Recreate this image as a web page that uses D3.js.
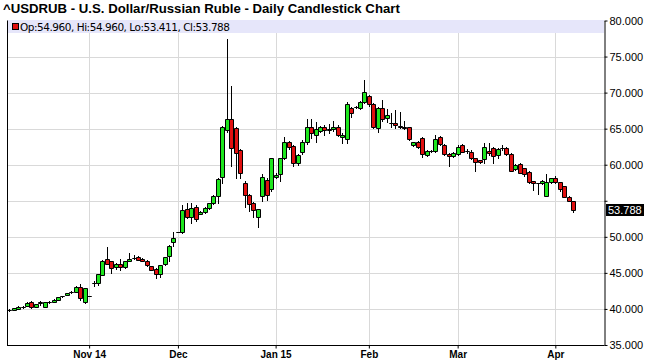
<!DOCTYPE html>
<html><head><meta charset="utf-8">
<script src="https://cdn.jsdelivr.net/npm/d3@7"></script>
<style>body{margin:0;background:#fff}svg{display:block}text{font-family:"Liberation Sans",Arial,sans-serif}</style>
</head><body><svg id="c" width="645" height="361"></svg>
<script>
const dates = [
"2014-10-08","2014-10-09","2014-10-10","2014-10-13","2014-10-14","2014-10-15","2014-10-16","2014-10-17","2014-10-20","2014-10-21","2014-10-22","2014-10-23","2014-10-24","2014-10-27","2014-10-28","2014-10-29","2014-10-30","2014-10-31",
"2014-11-03","2014-11-04","2014-11-05","2014-11-06","2014-11-07","2014-11-10","2014-11-11","2014-11-12","2014-11-13","2014-11-14","2014-11-17","2014-11-18","2014-11-19","2014-11-20","2014-11-21","2014-11-24","2014-11-25","2014-11-26","2014-11-27","2014-11-28",
"2014-12-01","2014-12-02","2014-12-03","2014-12-04","2014-12-05","2014-12-08","2014-12-09","2014-12-10","2014-12-11","2014-12-12","2014-12-15","2014-12-16","2014-12-17","2014-12-18","2014-12-19","2014-12-22","2014-12-23","2014-12-24","2014-12-26","2014-12-29","2014-12-30","2014-12-31",
"2015-01-02","2015-01-05","2015-01-06","2015-01-07","2015-01-08","2015-01-09","2015-01-12","2015-01-13","2015-01-14","2015-01-15","2015-01-16","2015-01-19","2015-01-20","2015-01-21","2015-01-22","2015-01-23","2015-01-26","2015-01-27","2015-01-28","2015-01-29","2015-01-30",
"2015-02-02","2015-02-03","2015-02-04","2015-02-05","2015-02-06","2015-02-09","2015-02-10","2015-02-11","2015-02-12","2015-02-13","2015-02-16","2015-02-17","2015-02-18","2015-02-19","2015-02-20","2015-02-23","2015-02-24","2015-02-25","2015-02-26","2015-02-27",
"2015-03-02","2015-03-03","2015-03-04","2015-03-05","2015-03-06","2015-03-09","2015-03-10","2015-03-11","2015-03-12","2015-03-13","2015-03-16","2015-03-17","2015-03-18","2015-03-19","2015-03-20","2015-03-23","2015-03-24","2015-03-25","2015-03-26","2015-03-27","2015-03-30","2015-03-31",
"2015-04-01","2015-04-02","2015-04-03","2015-04-06","2015-04-07"];

const open = [39.85,39.88,40.02,40.28,40.42,40.92,40.32,40.88,40.32,40.95,41.00,41.22,41.76,41.95,42.30,42.40,43.10,40.95,
41.75,43.55,43.65,44.70,46.90,46.60,45.80,46.30,45.80,46.65,47.05,47.20,46.90,46.65,45.90,45.60,44.85,46.20,47.40,49.25,
50.70,50.70,53.80,52.70,54.20,53.20,53.40,54.00,54.70,55.70,58.36,64.80,66.30,65.06,62.05,57.40,55.80,54.65,52.70,55.60,57.90,56.60,
58.30,58.70,60.90,63.10,62.60,60.20,61.70,63.10,65.20,64.10,64.70,65.30,64.80,64.90,65.30,63.80,63.54,67.92,67.97,67.83,68.76,
69.54,68.39,65.06,67.83,66.44,65.75,65.84,65.38,65.29,65.20,62.75,63.20,63.67,61.36,61.90,61.90,63.90,62.74,61.45,61.22,
61.50,62.75,61.90,61.82,60.90,60.60,60.76,61.96,62.28,61.36,62.30,62.28,61.50,59.37,60.06,59.50,58.96,57.75,57.40,57.43,55.67,57.66,
58.12,57.57,57.06,55.58,54.96];
const high = [39.95,40.12,40.35,40.42,40.90,41.05,40.70,41.10,41.00,41.05,41.35,41.65,41.85,42.25,42.42,43.15,43.50,42.95,
41.75,43.85,44.85,46.75,48.60,46.70,46.40,46.95,46.70,47.70,47.45,47.30,47.00,46.75,46.00,45.65,46.10,47.20,48.80,50.70,
50.70,54.40,54.65,54.75,54.40,53.60,54.10,54.75,55.75,58.10,65.40,77.40,70.90,65.30,62.20,57.80,56.00,54.80,53.90,58.70,58.20,61.00,
58.80,61.00,63.80,63.35,62.80,61.50,63.40,66.40,66.40,65.95,65.40,65.50,65.70,66.00,65.50,64.40,68.76,68.06,68.10,68.80,71.76,
69.70,68.50,68.00,68.99,67.69,67.14,67.60,67.37,66.00,65.30,63.20,63.30,63.80,62.00,62.00,64.13,64.00,62.90,61.60,61.70,
62.70,62.90,62.20,62.00,61.00,60.70,62.98,62.98,62.40,62.30,62.75,62.40,61.60,60.10,60.20,59.60,59.10,57.80,57.50,57.90,58.70,58.20,
58.45,57.60,57.10,55.60,54.96];
const low = [39.78,39.82,39.98,40.18,40.38,40.20,40.25,40.55,40.28,40.85,40.95,41.18,41.70,41.90,42.25,42.35,41.30,40.85,
41.75,43.25,43.30,44.65,46.20,44.95,45.60,45.40,45.70,46.60,46.90,46.75,46.60,46.00,45.35,44.25,44.45,46.05,46.70,48.70,
50.70,50.50,52.60,51.98,52.25,53.10,53.30,53.90,54.60,54.65,57.50,64.50,59.80,58.10,58.10,54.20,53.60,52.80,51.40,55.00,55.10,56.40,
58.20,57.70,60.80,62.20,59.80,60.00,61.50,62.90,63.70,63.20,64.50,64.10,64.40,64.70,64.00,63.00,62.98,66.68,67.80,67.70,68.60,
68.20,65.10,64.60,66.10,65.98,65.20,65.06,65.10,64.90,63.40,62.60,62.30,61.13,61.20,61.80,61.80,62.70,61.30,59.83,61.10,
61.40,61.70,61.60,60.80,59.19,60.20,60.20,61.40,60.30,61.00,62.10,61.40,59.10,59.20,58.80,58.50,57.40,56.50,55.95,57.30,55.60,57.50,
57.40,56.40,55.50,54.90,53.411];
const close = [39.88,40.08,40.28,40.32,40.82,40.32,40.65,40.90,40.97,40.98,41.30,41.60,41.80,42.22,42.38,43.10,41.50,42.90,
41.75,43.58,44.80,46.70,46.30,45.70,46.30,45.80,46.60,46.98,47.12,46.80,46.68,46.05,45.42,44.85,46.05,47.15,48.78,49.90,
50.70,53.70,52.70,53.96,52.44,53.50,54.00,54.65,55.70,58.00,65.20,66.30,62.30,61.60,58.80,55.80,54.60,53.70,53.80,58.30,55.80,60.90,
58.60,60.90,63.10,62.40,60.20,61.40,63.20,65.30,64.40,64.90,65.20,64.80,65.00,65.20,64.10,64.10,68.39,67.14,67.97,68.66,70.05,
68.39,65.20,67.92,66.30,66.90,65.75,65.52,65.20,65.06,63.53,63.10,62.42,61.45,61.90,61.90,63.53,62.88,61.45,61.22,61.59,
62.52,61.82,61.90,60.90,60.34,60.34,62.42,61.59,61.22,62.14,62.30,61.50,59.19,59.97,58.90,58.70,57.66,57.43,57.40,57.75,57.66,58.12,
57.57,56.60,55.58,54.98,53.788];

const yTicks = [35,40,45,50,55,60,65,70,75,80];
const tickDates = ["2014-11-03","2014-12-01","2015-01-02","2015-02-02","2015-03-02","2015-04-01"];
const tickLabels = ["Nov 14","Dec","Jan 15","Feb","Mar","Apr"];
const titleText = "^USDRUB - U.S. Dollar/Russian Ruble - Daily Candlestick Chart";

const svg = d3.select("#c");
const L = 7, R = 604, T = 20.5, B = 345;
const x = d3.scaleBand().domain(dates).range([7, 575.3]).padding(0);
const y = d3.scaleLinear().domain([35, 80]).range([B, T]);
const cx = d => Math.round(x(d) + x.bandwidth() / 2);
const cy = v => Math.round(y(v)) + 0.5;
const n = dates.length;
const lastY = Math.round(y(close[n - 1]));

// gridlines
const g = svg.append("g");
g.selectAll(".hg").data(yTicks.slice(1)).join("line")
  .attr("x1", L).attr("x2", R).attr("y1", d => cy(d)).attr("y2", d => cy(d))
  .attr("stroke", "#d9d9d9").attr("stroke-width", 1);
g.selectAll(".vg").data(tickDates).join("line")
  .attr("x1", d => cx(d) + 0.5).attr("x2", d => cx(d) + 0.5).attr("y1", T).attr("y2", B)
  .attr("stroke", "#d9d9d9").attr("stroke-width", 1);

// legend band
svg.append("rect").attr("x", L + 0.5).attr("y", 20).attr("width", R - L - 0.5).attr("height", 13).attr("fill", "#e6e6fa");
svg.append("rect").attr("x", 12.5).attr("y", 23.5).attr("width", 6).attr("height", 6).attr("fill", "#e01010").attr("stroke", "#000");
svg.append("text").attr("x", 20).attr("y", 30.5).attr("fill", "#000")
  .attr("textLength", 210).attr("lengthAdjust", "spacing")
  .style("font-family", "'DejaVu Sans', sans-serif").style("font-size", "10.5px")
  .text(`Op:${open[n-1].toFixed(3)}, Hi:${high[n-1].toFixed(3)}, Lo:${low[n-1].toFixed(3)}, Cl:${close[n-1].toFixed(3)}`);

// candles
const idx = d3.range(n);
const cg = svg.append("g");
cg.selectAll(".w").data(idx).join("line")
  .attr("x1", i => cx(dates[i]) + 0.5).attr("x2", i => cx(dates[i]) + 0.5)
  .attr("y1", i => Math.round(y(high[i]))).attr("y2", i => Math.round(y(low[i])) + 1)
  .attr("stroke", "#000").attr("stroke-width", 1);
cg.selectAll(".b").data(idx).join("path")
  .attr("d", i => {
    const px = cx(dates[i]);
    const x0 = px - 1.5, x1 = px + 2.5;
    const y0 = cy(Math.max(open[i], close[i])), y1 = cy(Math.min(open[i], close[i]));
    return `M${x0},${y0}H${x1}V${y1}H${x0}Z`;
  })
  .attr("fill", i => close[i] > open[i] ? "#1ee61e" : (close[i] < open[i] ? "#e01010" : "#000"))
  .attr("stroke", "#000").attr("stroke-width", 1);

// frame
svg.append("line").attr("x1", L + 0.5).attr("x2", L + 0.5).attr("y1", T).attr("y2", B + 0.5).attr("stroke", "#000");
svg.append("line").attr("x1", L).attr("x2", R + 0.5).attr("y1", B + 0.5).attr("y2", B + 0.5).attr("stroke", "#000");

// right axis
const ya = svg.append("g").attr("transform", `translate(${R + 0.5},0)`)
  .call(d3.axisRight(y).tickValues(yTicks).tickFormat(d3.format(".3f")).tickSize(3).tickSizeOuter(0).tickPadding(2));
ya.select(".domain").attr("stroke", "#000");
ya.selectAll("text").attr("font-size", 11).attr("fill", "#000");
ya.selectAll(".tick line").attr("stroke", "#000");
// labels hidden behind the last-price marker
ya.selectAll(".tick").filter(d => Math.abs(y(d) - lastY) < 11).select("text").remove();

// bottom axis
const xa = svg.append("g").attr("transform", `translate(0.5,${B + 0.5})`)
  .call(d3.axisBottom(x).tickValues(tickDates).tickFormat((d, i) => tickLabels[i]).tickSize(3).tickSizeOuter(0).tickPadding(2));
xa.select(".domain").remove();
xa.selectAll("text").attr("font-size", 10).attr("font-weight", "bold").attr("fill", "#000");
xa.selectAll(".tick line").attr("stroke", "#000");

// last price label
svg.append("rect").attr("x", 606).attr("y", lastY - 6).attr("width", 38).attr("height", 12).attr("fill", "#000");
svg.append("text").attr("x", 608).attr("y", lastY + 4).attr("font-size", 11).attr("fill", "#fff").text(close[n - 1].toFixed(3));

// title
svg.append("text").attr("x", 3).attr("y", 13).attr("font-size", 13.2).attr("font-weight", "bold").attr("fill", "#000").text(titleText);
</script></body></html>
